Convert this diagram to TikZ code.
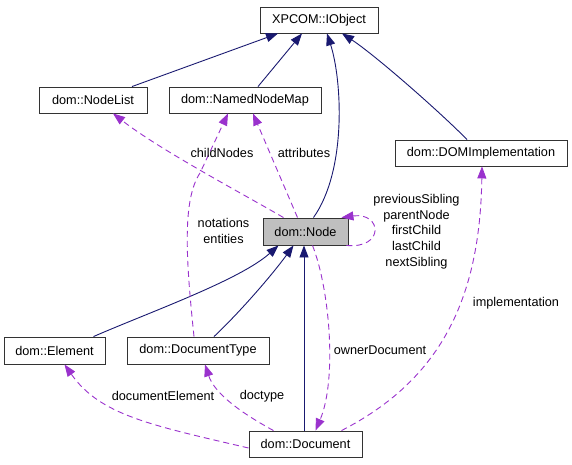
\documentclass[tikz,border=0pt]{standalone}
\usepackage{fontspec}
\setmainfont{Liberation Sans}
\usetikzlibrary{arrows.meta}
\definecolor{inhblue}{HTML}{191970}
\definecolor{usepurple}{HTML}{9A32CD}
\definecolor{nodegray}{HTML}{BFBFBF}
\tikzset{
  cls/.style={draw=black!80, line width=0.9pt, fill=white, inner sep=0pt, minimum height=26pt, font=\fontsize{12.7}{14}\selectfont},
  inh/.style={draw=inhblue, line width=0.9pt, {Triangle[length=12pt,width=9pt,fill=inhblue]}-},
  usearrow/.style={draw=usepurple, line width=0.9pt, dash pattern=on 6pt off 4pt, -{Triangle[length=12pt,width=9pt,fill=usepurple]}},
  lbl/.style={inner sep=0pt, font=\fontsize{12.7}{15.7}\selectfont, align=center}
}
\begin{document}
\begin{tikzpicture}[x=1pt,y=-1pt]
\useasboundingbox (0,0) rectangle (572,464);
% classes
\node[cls, minimum width=118pt] (IObject) at (319,20) {XPCOM::IObject};
\node[cls, minimum width=108pt] (NodeList) at (93,100) {dom::NodeList};
\node[cls, minimum width=152pt] (NamedNodeMap) at (245,100) {dom::NamedNodeMap};
\node[cls, minimum width=172pt] (DOMImpl) at (481,153) {dom::DOMImplementation};
\node[cls, minimum width=85pt, minimum height=27pt, fill=nodegray] (Node) at (305.5,231.5) {dom::Node};
\node[cls, minimum width=101pt, minimum height=27pt] (Element) at (54.5,350.5) {dom::Element};
\node[cls, minimum width=142pt, minimum height=27pt] (DocType) at (198,350.5) {dom::DocumentType};
\node[cls, minimum width=113pt] (Document) at (305.5,444) {dom::Document};
% inheritance
\draw[inh] ([xshift=-41pt]IObject.south) -- ([xshift=39pt]NodeList.north);
\draw[inh] ([xshift=-17pt]IObject.south) -- ([xshift=13pt]NamedNodeMap.north);
\draw[inh] ([xshift=8pt]IObject.south) .. controls (342,80) and (347,170) .. ([xshift=8pt]Node.north);
\draw[inh] ([xshift=23pt]IObject.south) .. controls (375,55) and (440,112) .. ([xshift=-14pt]DOMImpl.north);
\draw[inh] ([xshift=-27pt]Node.south) .. controls (240,280) and (150,312) .. ([xshift=39pt]Element.north);
\draw[inh] ([xshift=-12pt]Node.south) .. controls (272,275) and (240,312) .. ([xshift=16pt]DocType.north);
\draw[inh] ([xshift=-1.5pt]Node.south) -- ([xshift=-1.5pt]Document.north);
% usage
\draw[usearrow] ([xshift=-22pt]Node.north) .. controls (245,195) and (160,150) .. ([xshift=20pt]NodeList.south);
\draw[usearrow] ([xshift=-8pt]Node.north) -- ([xshift=8pt]NamedNodeMap.south);
\draw[usearrow] ([xshift=-4pt]DocType.north) .. controls (186,260) and (182,200) .. (200,173) -- ([xshift=-17pt]NamedNodeMap.south);
\draw[usearrow] ([xshift=-2pt]Node.south east) .. controls (385,249) and (382,212) .. ([xshift=-7pt]Node.north east);
\draw[usearrow] ([xshift=7pt]Node.south) .. controls (330,290) and (337,380) .. ([xshift=10pt]Document.north);
\draw[usearrow] ([xshift=36pt]Document.north) .. controls (440,380) and (480,300) .. ([xshift=1pt]DOMImpl.south);
\draw[usearrow] ([yshift=-4pt]Document.west) .. controls (150,425) and (100,415) .. ([xshift=10pt]Element.south);
\draw[usearrow] ([xshift=-32pt]Document.north) .. controls (245,415) and (215,395) .. ([xshift=7pt]DocType.south);
% labels
\node[lbl] (lchild) at (222,153) {childNodes};
\node[lbl] (lattr) at (304,153) {attributes};
\node[lbl] (lnot) at (223.5,231) {notations\\entities};
\node[lbl] (lself) at (416.5,231.5) {previousSibling\\parentNode\\firstChild\\lastChild\\nextSibling};
\node[lbl] (lowner) at (380,350) {ownerDocument};
\node[lbl] (limpl) at (516,303) {implementation};
\node[lbl] (ldocel) at (163,396) {documentElement};
\node[lbl] (ldoct) at (262,396) {doctype};
\end{tikzpicture}
\end{document}
